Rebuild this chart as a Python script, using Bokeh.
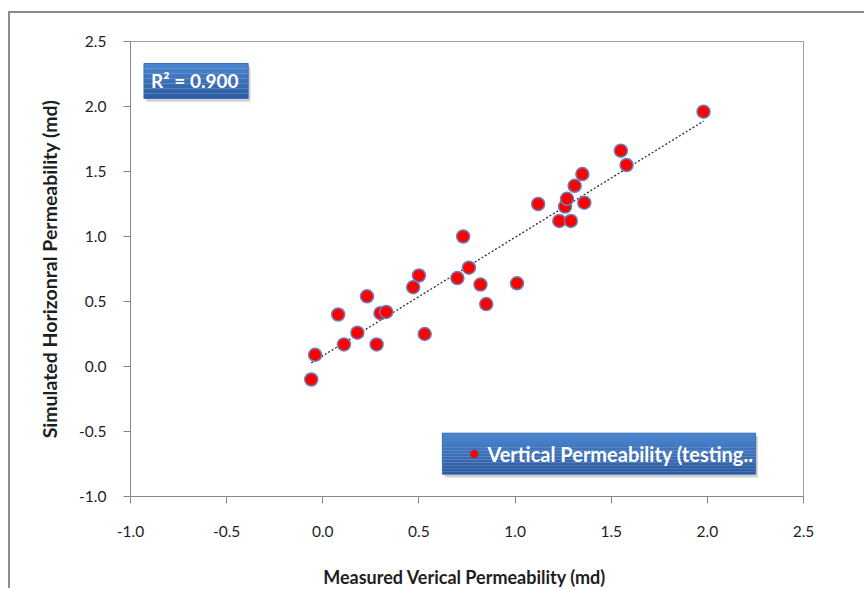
import numpy as np
from bokeh.plotting import figure
from bokeh.models import FixedTicker, PrintfTickFormatter
from bokeh.embed import file_html
from bokeh.resources import INLINE
from bokeh.core.properties import value

# ---- data ----
measured = [-0.06, -0.04, 0.11, 0.18, 0.08, 0.23, 0.28, 0.30, 0.33, 0.53,
            0.47, 0.50, 0.70, 0.76, 0.73, 0.82, 0.85, 1.01, 1.12, 1.23,
            1.29, 1.26, 1.27, 1.36, 1.31, 1.35, 1.55, 1.58, 1.98]
simulated = [-0.10, 0.09, 0.17, 0.26, 0.40, 0.54, 0.17, 0.41, 0.42, 0.25,
             0.61, 0.70, 0.68, 0.76, 1.00, 0.63, 0.48, 0.64, 1.25, 1.12,
             1.12, 1.23, 1.29, 1.26, 1.39, 1.48, 1.66, 1.55, 1.96]
x_ticks = [-1.0, -0.5, 0.0, 0.5, 1.0, 1.5, 2.0, 2.5]
y_ticks = [-1.0, -0.5, 0.0, 0.5, 1.0, 1.5, 2.0, 2.5]
r2_text = "R\u00b2 = 0.900"
legend_text = "Vertical Permeability (testing.."
x_title = "Measured  Verical Permeability (md)"
y_title = "Simulated Horizonral Permeability (md)"

FONT = "Lato"

p = figure(width=856, height=577, x_range=(-1.0, 2.5), y_range=(-1.0, 2.5),
           output_backend="svg", toolbar_location=None,
           min_border_left=120, min_border_right=63,
           min_border_top=28, min_border_bottom=94)
p.styles = {"border-left": "2px solid #8c8c8c", "border-top": "2px solid #8c8c8c",
            "margin-top": "11px", "margin-left": "8px"}
p.background_fill_color = "white"
p.border_fill_color = "white"
p.outline_line_color = "#a0a0a0"
p.outline_line_width = 1
p.grid.visible = False

for ax, ticks in ((p.xaxis, x_ticks), (p.yaxis, y_ticks)):
    ax.ticker = FixedTicker(ticks=ticks)
    ax.formatter = PrintfTickFormatter(format="%.1f")
    ax.axis_line_color = "#868686"
    ax.major_tick_line_color = "#868686"
    ax.minor_tick_line_color = None
    ax.major_tick_in = 0
    ax.major_tick_out = 7
    ax.major_label_text_font = FONT
    ax.major_label_text_font_size = "15.5px"
    ax.major_label_text_color = "#1e1e1e"
    ax.axis_label_text_font = FONT
    ax.axis_label_text_font_style = "bold"
    ax.axis_label_text_color = "#1e1e1e"
p.xaxis.axis_label_text_font_size = "18px"
p.yaxis.axis_label_text_font_size = "19.5px"
p.xaxis.major_label_standoff = 22
p.yaxis.major_label_standoff = 17
p.xaxis.axis_label = x_title
p.yaxis.axis_label = y_title
p.xaxis.axis_label_standoff = 26
p.yaxis.axis_label_standoff = 15

# trend line (least squares fit of the data)
m, b = np.polyfit(measured, simulated, 1)
xs = [min(measured), max(measured)]
p.line(xs, [m * v + b for v in xs], line_color="#303030", line_width=1.3,
       line_dash="2 2")

# points
p.scatter(measured, simulated, size=13, fill_color="#ff0000",
          line_color="#6a80b8", line_width=1.5)


def gradient_box(x0, x1, y0, y1, top=(74, 134, 207), bot=(44, 92, 163), n=14):
    dx, dy = 0.012, 0.025
    p.quad(left=x0 + dx, right=x1 + dx, bottom=y0 - dy, top=y1 - dy,
           fill_color="#7f7f7f", fill_alpha=0.35, line_color=None)
    h = (y1 - y0) / n
    for i in range(n):
        t = i / (n - 1)
        c = tuple(int(top[k] + (bot[k] - top[k]) * t) for k in range(3))
        col = "#%02x%02x%02x" % c
        p.quad(left=x0, right=x1, top=y1 - i * h, bottom=y1 - (i + 1) * h,
               fill_color=col, line_color=None)
    p.quad(left=x0, right=x1, top=y1, bottom=y0, fill_color=None,
           line_color="#3a6cb0", line_width=1)


# R^2 box
gradient_box(-0.930, -0.388, 2.062, 2.331)
p.text([-0.893], [2.197], text=[r2_text], text_font=value(FONT),
       text_font_size="19px", text_color="white", text_baseline="middle",
       text_font_style="bold")

# legend box
gradient_box(0.622, 2.251, -0.828, -0.513)
p.scatter([0.788], [-0.674], size=8, fill_color="#ff0000", line_color=None)
p.text([0.856], [-0.674], text=[legend_text], text_font=value(FONT),
       text_font_size="20px", text_color="white", text_baseline="middle",
       text_font_style="bold")

open("out.html", "w").write(file_html(p, INLINE))
